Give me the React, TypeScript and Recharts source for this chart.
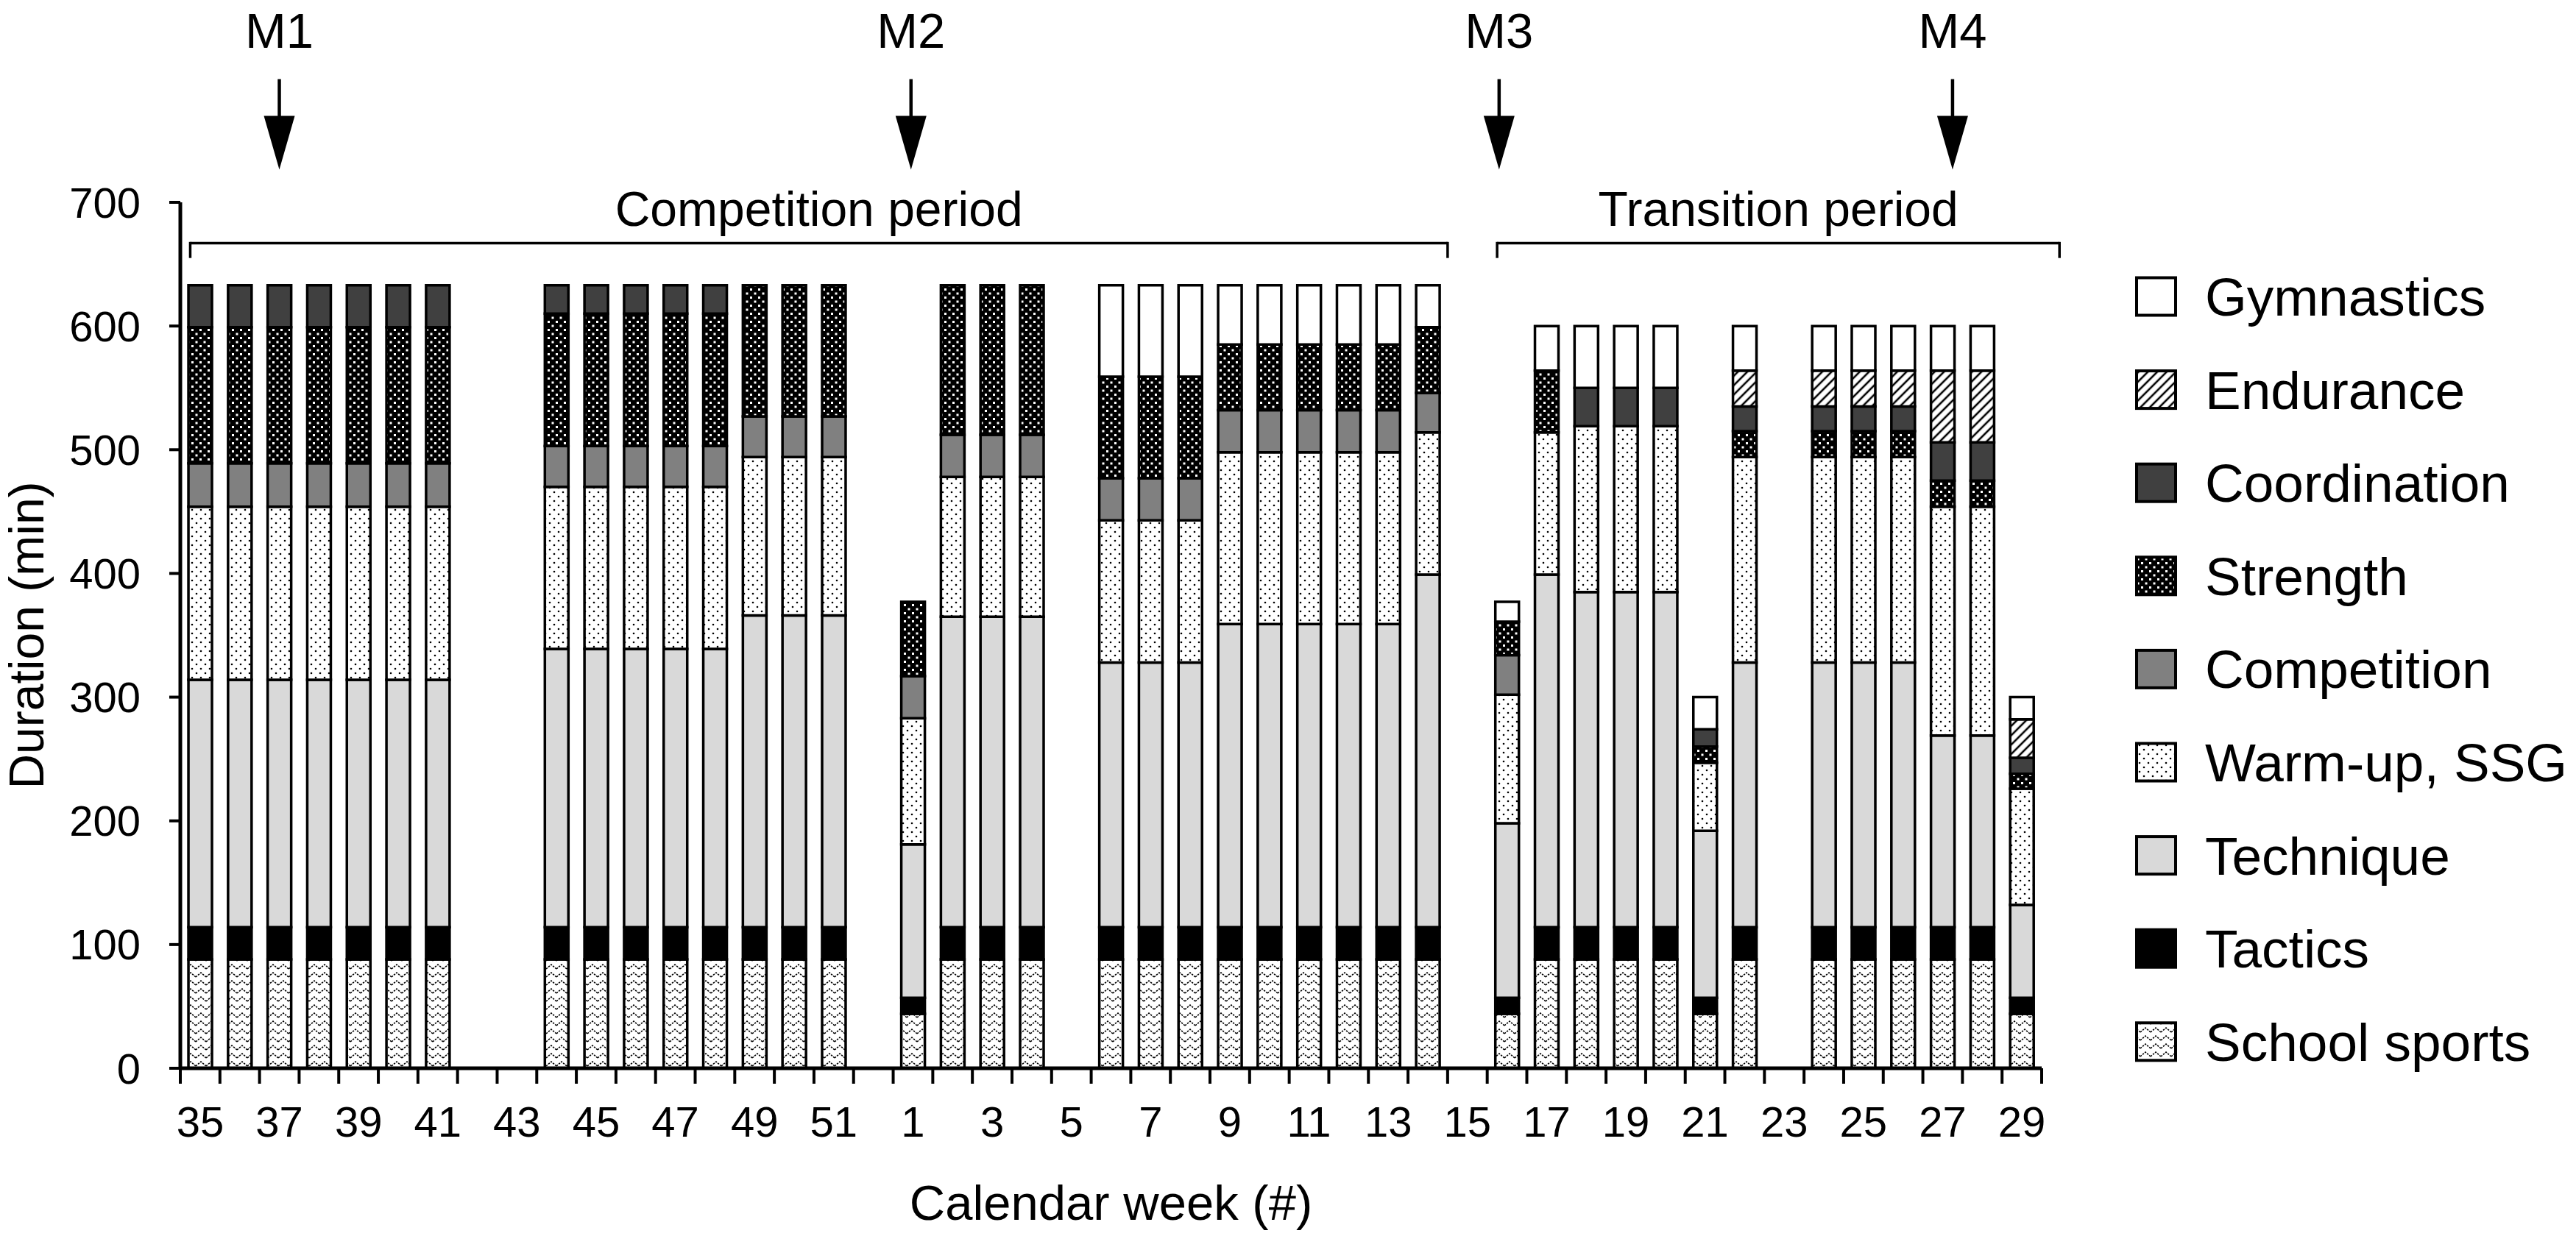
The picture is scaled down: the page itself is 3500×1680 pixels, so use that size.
import React from 'react';
import { BarChart, Bar, XAxis, YAxis, Legend, ReferenceLine, ReferenceDot } from 'recharts';

const FONT = '"Liberation Sans", Arial, Helvetica, sans-serif';

// calendar weeks, season 35 -> 52, then 1 -> 29
const weeks = [
  '35', '36', '37', '38', '39', '40', '41', '42', '43', '44', '45', '46', '47', '48', '49', '50', '51', '52',
  '1', '2', '3', '4', '5', '6', '7', '8', '9', '10', '11', '12', '13', '14', '15', '16', '17', '18', '19', '20',
  '21', '22', '23', '24', '25', '26', '27', '28', '29',
];

// minutes per week (first row: weeks 35-52, second row: weeks 1-29)
const schoolSports = [
  88, 88, 88, 88, 88, 88, 88, 0, 0, 88, 88, 88, 88, 88, 88, 88, 88, 0,
  44, 88, 88, 88, 0, 88, 88, 88, 88, 88, 88, 88, 88, 88, 0, 44, 88, 88, 88, 88, 44, 88, 0, 88, 88, 88, 88, 88, 44,
];
const tactics = [
  26, 26, 26, 26, 26, 26, 26, 0, 0, 26, 26, 26, 26, 26, 26, 26, 26, 0,
  13, 26, 26, 26, 0, 26, 26, 26, 26, 26, 26, 26, 26, 26, 0, 13, 26, 26, 26, 26, 13, 26, 0, 26, 26, 26, 26, 26, 13,
];
const technique = [
  200, 200, 200, 200, 200, 200, 200, 0, 0, 225, 225, 225, 225, 225, 252, 252, 252, 0,
  124, 251, 251, 251, 0, 214, 214, 214, 245, 245, 245, 245, 245, 285, 0, 141, 285, 271, 271, 271, 135, 214, 0, 214, 214, 214, 155, 155, 75,
];
const warmUp = [
  140, 140, 140, 140, 140, 140, 140, 0, 0, 131, 131, 131, 131, 131, 128, 128, 128, 0,
  102, 113, 113, 113, 0, 115, 115, 115, 139, 139, 139, 139, 139, 115, 0, 104, 115, 134, 134, 134, 55, 166, 0, 166, 166, 166, 185, 185, 94,
];
const competition = [
  35, 35, 35, 35, 35, 35, 35, 0, 0, 33, 33, 33, 33, 33, 33, 33, 33, 0,
  34, 34, 34, 34, 0, 34, 34, 34, 34, 34, 34, 34, 34, 32, 0, 32, 0, 0, 0, 0, 0, 0, 0, 0, 0, 0, 0, 0, 0,
];
const strength = [
  110, 110, 110, 110, 110, 110, 110, 0, 0, 107, 107, 107, 107, 107, 106, 106, 106, 0,
  60, 121, 121, 121, 0, 82, 82, 82, 53, 53, 53, 53, 53, 53, 0, 27, 50, 0, 0, 0, 13, 21, 0, 21, 21, 21, 21, 21, 12,
];
const coordination = [
  34, 34, 34, 34, 34, 34, 34, 0, 0, 23, 23, 23, 23, 23, 0, 0, 0, 0,
  0, 0, 0, 0, 0, 0, 0, 0, 0, 0, 0, 0, 0, 0, 0, 0, 0, 31, 31, 31, 14, 20, 0, 20, 20, 20, 31, 31, 13,
];
const endurance = [
  0, 0, 0, 0, 0, 0, 0, 0, 0, 0, 0, 0, 0, 0, 0, 0, 0, 0,
  0, 0, 0, 0, 0, 0, 0, 0, 0, 0, 0, 0, 0, 0, 0, 0, 0, 0, 0, 0, 0, 29, 0, 29, 29, 29, 58, 58, 31,
];
const gymnastics = [
  0, 0, 0, 0, 0, 0, 0, 0, 0, 0, 0, 0, 0, 0, 0, 0, 0, 0,
  0, 0, 0, 0, 0, 74, 74, 74, 48, 48, 48, 48, 48, 34, 0, 16, 36, 50, 50, 50, 26, 36, 0, 36, 36, 36, 36, 36, 18,
];

const yTicks = [0, 100, 200, 300, 400, 500, 600, 700];

// stacking order, bottom to top
const series = [
  { key: 'school', name: 'School sports', values: schoolSports, fill: 'url(#pSchool)' },
  { key: 'tactics', name: 'Tactics', values: tactics, fill: '#000000' },
  { key: 'technique', name: 'Technique', values: technique, fill: '#d9d9d9' },
  { key: 'warmup', name: 'Warm-up, SSG', values: warmUp, fill: 'url(#pWarm)' },
  { key: 'competition', name: 'Competition', values: competition, fill: '#808080' },
  { key: 'strength', name: 'Strength', values: strength, fill: 'url(#pStrength)' },
  { key: 'coordination', name: 'Coordination', values: coordination, fill: '#404040' },
  { key: 'endurance', name: 'Endurance', values: endurance, fill: 'url(#pEndurance)' },
  { key: 'gymnastics', name: 'Gymnastics', values: gymnastics, fill: '#ffffff' },
];

const data = weeks.map((week, i) => {
  const row: Record<string, any> = { week };
  series.forEach((s) => { row[s.key] = s.values[i]; });
  return row;
});

// annotations, x in band units along the week axis
const markers = [
  { label: 'M1', pos: 2.5 },
  { label: 'M2', pos: 18.45 },
  { label: 'M3', pos: 33.3 },
  { label: 'M4', pos: 44.75 },
];
const periods = [
  { label: 'Competition period', from: 0.25, to: 32.0 },
  { label: 'Transition period', from: 33.25, to: 47.45 },
];

const W = 3500;
const H = 1680;
const PLOT_LEFT = 245;
const PLOT_RIGHT = 2774;
const BAND = (PLOT_RIGHT - PLOT_LEFT) / weeks.length;

const WeekTick = (props: any) => {
  const { x, y, payload, index } = props;
  return (
    <g>
      <line x1={x - BAND / 2} x2={x - BAND / 2} y1={y} y2={y + 21} stroke="#000" strokeWidth={4} />
      {index === weeks.length - 1 && (
        <line x1={x + BAND / 2} x2={x + BAND / 2} y1={y} y2={y + 21} stroke="#000" strokeWidth={4} />
      )}
      {index % 2 === 0 && (
        <text x={x} y={y + 93} textAnchor="middle" fontSize={58} fontFamily={FONT} fill="#000">
          {payload.value}
        </text>
      )}
    </g>
  );
};

const arrowHead = (p: any) => (
  <polygon points={`${p.cx},${p.cy} ${p.cx - 21},${p.cy - 73} ${p.cx + 21},${p.cy - 73}`} fill="#000" />
);

const textShape = (label: string, size: number) => (p: any) => (
  <text x={p.cx} y={p.cy} textAnchor="middle" fontSize={size} fontFamily={FONT} fill="#000">
    {label}
  </text>
);

const LegendBox = () => {
  const items = [...series].reverse();
  return (
    <svg width={620} height={1130}>
      {items.map((s, i) => {
        const cy = 53 + i * 126.6;
        return (
          <g key={s.key}>
            <rect x={23} y={cy - 25.5} width={53} height={51} fill={s.fill} stroke="#000" strokeWidth={4} />
            <text x={116} y={cy + 26} fontSize={73} fontFamily={FONT} fill="#000">
              {s.name}
            </text>
          </g>
        );
      })}
    </svg>
  );
};

const Patterns = () => (
  <svg width={0} height={0} style={{ position: 'absolute' }}>
    <defs>
      <pattern id="pSchool" width={14} height={11} patternUnits="userSpaceOnUse">
        <rect width={14} height={11} fill="#fff" />
        <path d="M0 8 L7 2 L14 8" stroke="#000" strokeWidth={1.6} fill="none" strokeDasharray="2.5 1.5" />
      </pattern>
      <pattern id="pWarm" width={12} height={12} patternUnits="userSpaceOnUse">
        <rect width={12} height={12} fill="#fff" />
        <circle cx={3} cy={3} r={1.3} fill="#000" />
        <circle cx={9} cy={9} r={1.3} fill="#000" />
      </pattern>
      <pattern id="pStrength" width={11} height={11} patternUnits="userSpaceOnUse">
        <rect width={11} height={11} fill="#000" />
        <rect x={1.5} y={1.5} width={3} height={3} fill="#fff" />
        <rect x={7} y={7} width={3} height={3} fill="#fff" />
      </pattern>
      <pattern id="pEndurance" width={9} height={9} patternUnits="userSpaceOnUse" patternTransform="rotate(45)">
        <rect width={9} height={9} fill="#fff" />
        <line x1={2} y1={0} x2={2} y2={9} stroke="#000" strokeWidth={2.6} />
      </pattern>
    </defs>
  </svg>
);

export default function App() {
  return (
    <div style={{ position: 'absolute', left: 0, top: 0, width: W, height: H, background: '#fff' }}>
      <Patterns />
      <BarChart
        width={W}
        height={H}
        data={data}
        margin={{ top: 275, right: W - PLOT_RIGHT, bottom: 0, left: 0 }}
        barCategoryGap="20.5%"
      >
        <XAxis
          dataKey="week"
          interval={0}
          tickSize={0}
          tickMargin={0}
          tickLine={false}
          tick={(p: any) => <WeekTick {...p} />}
          axisLine={{ stroke: '#000', strokeWidth: 5 }}
          height={228}
          label={{
            value: 'Calendar week (#)',
            position: 'insideBottom',
            offset: 22,
            fontSize: 67,
            fill: '#000',
            style: { fontFamily: FONT, fontSize: 67, fill: '#000' },
          }}
        />
        <XAxis xAxisId="ann" dataKey="week" type="number" domain={[0, weeks.length]} allowDataOverflow hide />
        <YAxis
          domain={[0, 700]}
          ticks={yTicks}
          interval={0}
          allowDataOverflow
          width={PLOT_LEFT}
          tickSize={15}
          tickMargin={39}
          tick={{ fontSize: 58, fill: '#000', fontFamily: FONT }}
          axisLine={{ stroke: '#000', strokeWidth: 5 }}
          tickLine={{ stroke: '#000', strokeWidth: 4 }}
          label={{
            value: 'Duration (min)',
            angle: -90,
            position: 'insideLeft',
            offset: 36,
            fontSize: 66,
            fill: '#000',
            style: { fontFamily: FONT, fontSize: 66, fill: '#000', textAnchor: 'middle' },
          }}
        />
        <Legend
          layout="vertical"
          align="center"
          verticalAlign="middle"
          content={() => <LegendBox />}
          wrapperStyle={{ left: 2880, top: 350, width: 620, height: 1130 }}
        />
        {series.map((s) => (
          <Bar
            key={s.key}
            dataKey={s.key}
            name={s.name}
            stackId="week"
            fill={s.fill}
            stroke="#000"
            strokeWidth={3.5}
            isAnimationActive={false}
          />
        ))}

        {periods.map((p) => (
          <ReferenceLine
            key={p.label + '-h'}
            xAxisId="ann"
            ifOverflow="visible"
            segment={[{ x: p.from, y: 667 }, { x: p.to, y: 667 }]}
            stroke="#000"
            strokeWidth={3.5}
          />
        ))}
        {periods.map((p) => (
          <ReferenceLine
            key={p.label + '-l'}
            xAxisId="ann"
            ifOverflow="visible"
            segment={[{ x: p.from, y: 668 }, { x: p.from, y: 655 }]}
            stroke="#000"
            strokeWidth={3.5}
          />
        ))}
        {periods.map((p) => (
          <ReferenceLine
            key={p.label + '-r'}
            xAxisId="ann"
            ifOverflow="visible"
            segment={[{ x: p.to, y: 668 }, { x: p.to, y: 655 }]}
            stroke="#000"
            strokeWidth={3.5}
          />
        ))}
        {periods.map((p) => (
          <ReferenceDot
            key={p.label + '-t'}
            xAxisId="ann"
            ifOverflow="visible"
            x={(p.from + p.to) / 2}
            y={681}
            shape={textShape(p.label, 66)}
          />
        ))}

        {markers.map((m) => (
          <ReferenceLine
            key={m.label + '-s'}
            xAxisId="ann"
            ifOverflow="visible"
            segment={[{ x: m.pos, y: 799.6 }, { x: m.pos, y: 766 }]}
            stroke="#000"
            strokeWidth={4.5}
          />
        ))}
        {markers.map((m) => (
          <ReferenceDot key={m.label + '-a'} xAxisId="ann" ifOverflow="visible" x={m.pos} y={726.5} shape={arrowHead} />
        ))}
        {markers.map((m) => (
          <ReferenceDot
            key={m.label + '-t'}
            xAxisId="ann"
            ifOverflow="visible"
            x={m.pos}
            y={825}
            shape={textShape(m.label, 67)}
          />
        ))}
      </BarChart>
    </div>
  );
}
